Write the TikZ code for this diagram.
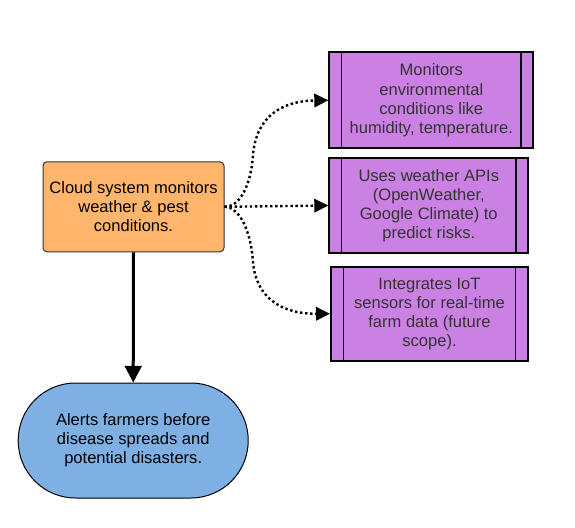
\documentclass[tikz,border=0pt]{standalone}
\usepackage{fontspec}
\setmainfont{Liberation Sans}
\usetikzlibrary{arrows.meta}
\definecolor{cloud-orange}{RGB}{255,181,107}
\definecolor{sensor-purple}{RGB}{203,128,228}
\definecolor{alert-blue}{RGB}{126,176,228}
\definecolor{text-gray}{gray}{0.2}
\tikzstyle{stepfont}=[font=\fontsize{12.4}{14.3}\selectfont, align=center, inner sep=0pt]
\tikzstyle{cloudbox}=[stepfont, draw=text-gray, line width=0.75pt, fill=cloud-orange, rounded corners=3pt]
\tikzstyle{procbox}=[stepfont, draw=black, line width=1.5pt, fill=sensor-purple, text=text-gray,
  path picture={
    \draw[line width=1.1pt] ([xshift=9.3pt]path picture bounding box.north west) -- ([xshift=9.3pt]path picture bounding box.south west);
    \draw[line width=1.1pt] ([xshift=-9.3pt]path picture bounding box.north east) -- ([xshift=-9.3pt]path picture bounding box.south east);
  }]
\tikzstyle{alertbox}=[stepfont, draw=black, line width=0.75pt, fill=alert-blue, rounded corners=43pt]
\tikzstyle{mainarrow}=[line width=2.25pt, -{Triangle[length=12.5pt,width=12.5pt]}]
\tikzstyle{dotarrow}=[line width=1.8pt, dash pattern=on 1.8pt off 2pt, -{Triangle[length=10.5pt,width=10pt]}]
\begin{document}
\begin{tikzpicture}[x=0.75pt,y=-0.75pt]
\useasboundingbox (0,0) rectangle (575,528);
% boxes
\node[cloudbox, minimum width=135.75pt, minimum height=67.5pt] (cloud) at (133.5,206.8)
  {Cloud system monitors\\weather \& pest\\conditions.};
\node[alertbox, minimum width=172.5pt, minimum height=86.25pt] (alert) at (133.2,440.5)
  {Alerts farmers before\\disease spreads and\\potential disasters.};
\node[procbox, minimum width=153pt, minimum height=72pt] (monitor) at (431.3,100.3)
  {Monitors\\environmental\\conditions like\\humidity, temperature.};
\node[procbox, minimum width=149.25pt, minimum height=70.8pt] (weather) at (428.8,205.5)
  {Uses weather APIs\\(OpenWeather,\\Google Climate) to\\predict risks.};
\node[procbox, minimum width=147.75pt, minimum height=70.5pt] (iot) at (429.5,313.7)
  {Integrates IoT\\sensors for real-time\\farm data (future\\scope).};
% connectors
\draw[mainarrow] (cloud.south) -- (alert.north);
\draw[dotarrow] (cloud.east) .. controls (240,207) and (251,185) .. (253,155)
  .. controls (256,118) and (280,101) .. (monitor.west);
\draw[dotarrow] (cloud.east) -- (weather.west);
\draw[dotarrow] (cloud.east) .. controls (240,207) and (251,232) .. (253,262)
  .. controls (256,298) and (282,314) .. (iot.west);
\end{tikzpicture}
\end{document}
